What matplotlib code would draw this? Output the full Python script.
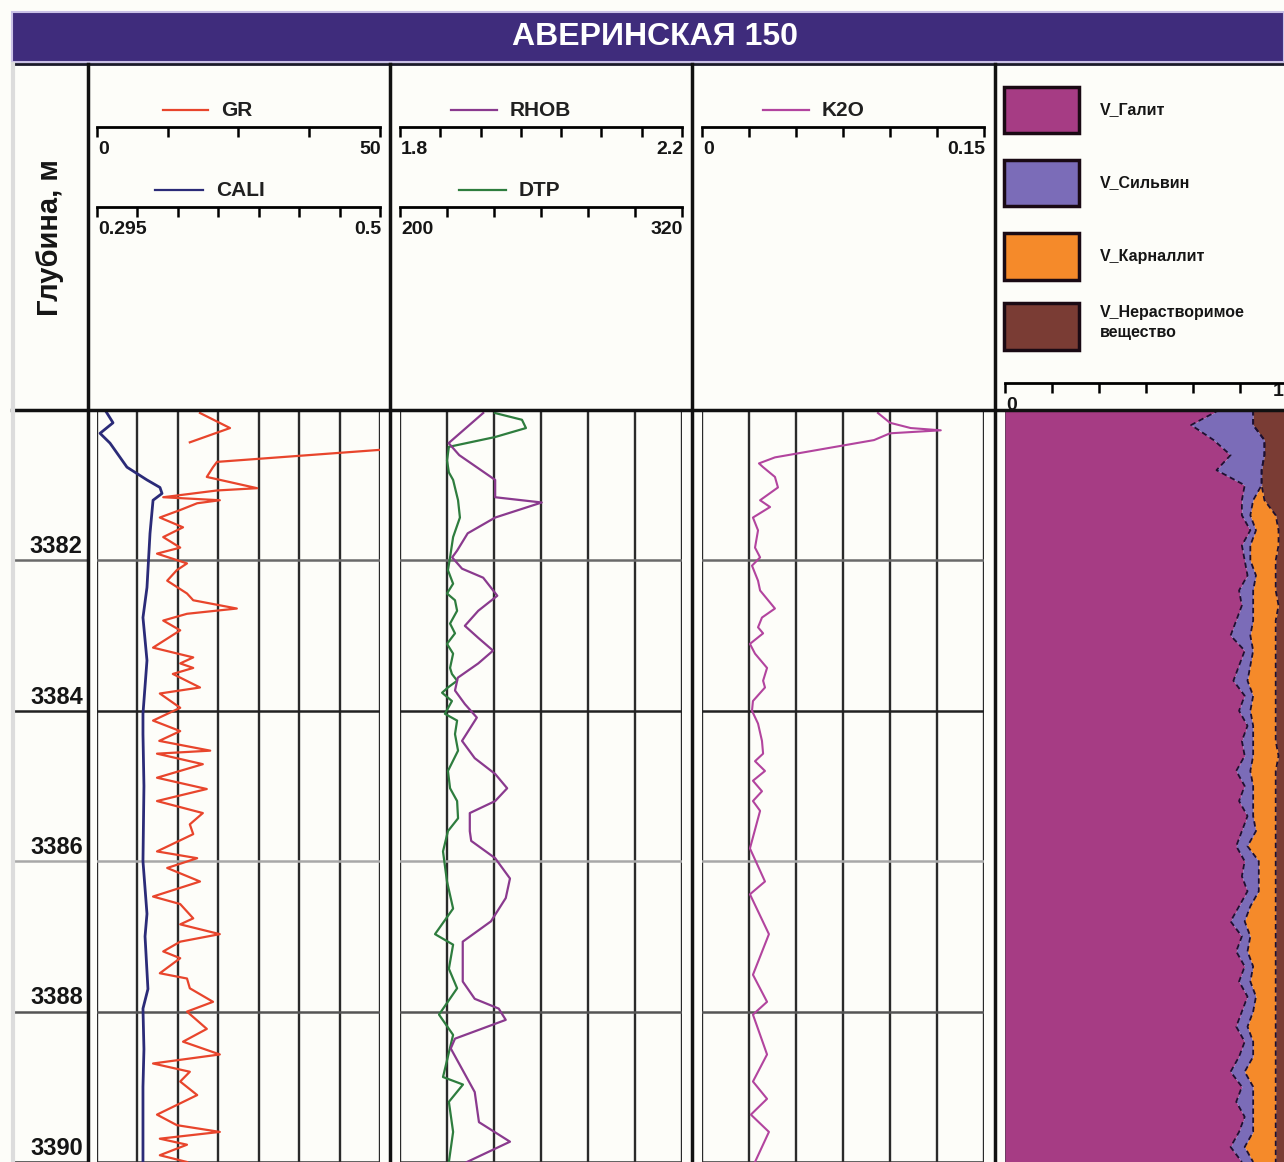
import numpy as np
import matplotlib
matplotlib.use("Agg")
import matplotlib.pyplot as plt
from matplotlib.patches import Rectangle

plt.rcParams['font.family'] = ['Liberation Sans', 'DejaVu Sans']
plt.rcParams['font.weight'] = 'bold'

W, H = 1284, 1162
TOP, BOT = 3380.0, 3390.0

title = "АВЕРИНСКАЯ 150"
depth_label = "Глубина, м"
depth_ticks = [3382, 3384, 3386, 3388, 3390]
hline_colors = ['#6a6a6a', '#222222', '#a8a8a8', '#555555', '#333333']

# GR (API) and CALI (m)
gr_depth = [3380.04, 3380.24, 3380.43, 3380.47, 3380.53, 3380.69, 3380.76, 3380.89, 3381.04, 3381.07,
            3381.16, 3381.20, 3381.24, 3381.33, 3381.43, 3381.56, 3381.69, 3381.83, 3381.91, 3382.04,
            3382.13, 3382.27, 3382.44, 3382.53, 3382.64, 3382.71, 3382.80, 3382.93, 3383.16, 3383.29,
            3383.37, 3383.43, 3383.51, 3383.69, 3383.77, 3383.96, 3384.13, 3384.27, 3384.40, 3384.53,
            3384.57, 3384.71, 3384.89, 3385.04, 3385.20, 3385.36, 3385.51, 3385.64, 3385.87, 3385.96,
            3386.09, 3386.27, 3386.47, 3386.57, 3386.76, 3386.84, 3386.97, 3387.07, 3387.20, 3387.29,
            3387.49, 3387.56, 3387.69, 3387.87, 3388.00, 3388.23, 3388.40, 3388.57, 3388.69, 3388.80,
            3388.93, 3389.11, 3389.37, 3389.51, 3389.60, 3389.69, 3389.77, 3389.91, 3390.00]
gr = [18.2, 23.5, 16.4, np.nan, 50.0, 21.2, 20.5, 19.4, 28.3, 21.2,
      11.7, 21.7, 17.7, 14.7, 11.1, 15.2, 11.7, 14.7, 10.6, 15.9,
      14.1, 12.4, 15.9, 17.0, 24.7, 15.9, 11.7, 14.7, 9.9, 17.0,
      14.7, 17.0, 13.4, 18.2, 11.1, 14.7, 9.9, 14.7, 11.0, 20.0,
      10.6, 18.7, 10.6, 19.4, 10.6, 18.7, 16.4, 17.0, 10.6, 17.7,
      12.4, 18.2, 9.9, 14.7, 17.0, 14.7, 21.7, 14.7, 11.7, 14.7,
      11.1, 15.9, 16.4, 20.5, 15.9, 19.4, 15.2, 21.7, 9.9, 16.4,
      14.7, 17.7, 10.6, 14.1, 21.7, 11.1, 15.9, 11.1, 15.9]

cali_depth = [3380.0, 3380.04, 3380.17, 3380.31, 3380.44, 3380.76, 3380.93, 3381.03, 3381.11, 3381.20,
              3381.64, 3382.36, 3382.76, 3383.33, 3384.04, 3384.31, 3385.0, 3386.0, 3386.7, 3387.0,
              3387.7, 3387.96, 3388.5, 3389.0, 3390.0]
cali = [0.3008, 0.3022, 0.3066, 0.2972, 0.3044, 0.3167, 0.3312, 0.3406, 0.3421, 0.3356,
        0.3334, 0.3312, 0.3283, 0.3312, 0.3283, 0.3283, 0.3290, 0.3283, 0.3312, 0.3298,
        0.3319, 0.3283, 0.3290, 0.3283, 0.3283]

# RHOB (g/cc) and DTP (us/m)
rhob_depth = [3380.04, 3380.44, 3380.60, 3380.93, 3381.16, 3381.23, 3381.43, 3381.64, 3381.87, 3381.96,
              3382.11, 3382.23, 3382.47, 3382.67, 3382.87, 3383.03, 3383.20, 3383.37, 3383.56, 3383.73,
              3383.91, 3384.09, 3384.40, 3384.63, 3384.84, 3385.03, 3385.20, 3385.36, 3385.60, 3385.73,
              3385.96, 3386.23, 3386.49, 3386.80, 3387.07, 3387.60, 3387.83, 3387.96, 3388.11, 3388.36,
              3388.49, 3389.07, 3389.47, 3389.73, 3390.00]
rhob = [1.918, 1.869, 1.884, 1.935, 1.935, 2.001, 1.935, 1.896, 1.881, 1.874,
        1.888, 1.918, 1.938, 1.911, 1.892, 1.911, 1.932, 1.911, 1.882, 1.878,
        1.892, 1.909, 1.888, 1.906, 1.935, 1.952, 1.935, 1.899, 1.899, 1.901,
        1.935, 1.956, 1.950, 1.929, 1.889, 1.889, 1.906, 1.940, 1.950, 1.878,
        1.872, 1.906, 1.912, 1.956, 1.895]

dtp_depth = [3380.04, 3380.13, 3380.24, 3380.36, 3380.49, 3380.67, 3380.83, 3380.93, 3381.20, 3381.43,
             3381.69, 3381.96, 3382.13, 3382.31, 3382.44, 3382.53, 3382.67, 3382.84, 3382.97, 3383.11,
             3383.24, 3383.43, 3383.51, 3383.60, 3383.69, 3383.76, 3383.87, 3384.04, 3384.13, 3384.31,
             3384.53, 3384.80, 3385.03, 3385.20, 3385.43, 3385.60, 3385.87, 3386.27, 3386.63, 3386.97,
             3387.11, 3387.43, 3387.69, 3388.04, 3388.31, 3388.87, 3388.97, 3389.20, 3389.60, 3390.00]
dtp = [240.4, 251.9, 253.6, 240.4, 220.8, 220.0, 220.8, 222.6, 224.7, 225.5,
       222.6, 221.3, 220.4, 222.6, 220.0, 223.4, 224.3, 221.3, 223.4, 220.0,
       222.6, 221.3, 222.1, 224.3, 220.4, 217.9, 222.1, 219.1, 224.3, 223.4,
       224.7, 220.4, 221.3, 224.3, 224.7, 220.4, 218.3, 220.0, 222.6, 214.9,
       222.6, 220.8, 224.3, 216.6, 222.6, 218.3, 226.8, 220.8, 222.6, 220.8]

# K2O (fraction)
k2o_depth = [3380.04, 3380.17, 3380.24, 3380.27, 3380.31, 3380.40, 3380.63, 3380.71, 3380.76, 3380.89,
             3381.03, 3381.20, 3381.29, 3381.43, 3381.60, 3381.83, 3381.96, 3382.07, 3382.27, 3382.40,
             3382.64, 3382.76, 3382.89, 3382.97, 3383.11, 3383.24, 3383.43, 3383.60, 3383.69, 3383.87,
             3384.00, 3384.17, 3384.40, 3384.57, 3384.67, 3384.80, 3384.93, 3385.07, 3385.20, 3385.33,
             3385.83, 3386.27, 3386.44, 3386.97, 3387.51, 3387.87, 3388.04, 3388.57, 3388.93, 3389.16,
             3389.37, 3389.60, 3390.00]
k2o = [0.0936, 0.1000, 0.1110, 0.1270, 0.1000, 0.0915, 0.0388, 0.0303, 0.0325, 0.0388,
       0.0404, 0.0309, 0.0362, 0.0271, 0.0298, 0.0282, 0.0309, 0.0266, 0.0298, 0.0309,
       0.0388, 0.0319, 0.0298, 0.0325, 0.0255, 0.0282, 0.0346, 0.0325, 0.0335, 0.0271,
       0.0266, 0.0298, 0.0319, 0.0325, 0.0282, 0.0335, 0.0271, 0.0319, 0.0271, 0.0309,
       0.0255, 0.0335, 0.0255, 0.0356, 0.0271, 0.0346, 0.0271, 0.0346, 0.0271, 0.0346,
       0.0260, 0.0356, 0.0282]

# mineral volumes
vol_depth = [3380.0, 3380.2, 3380.4, 3380.6, 3380.8, 3381.0, 3381.2, 3381.4, 3381.6, 3381.8,
             3382.0, 3382.2, 3382.4, 3382.6, 3382.8, 3383.0, 3383.2, 3383.4, 3383.6, 3383.8,
             3384.0, 3384.2, 3384.4, 3384.6, 3384.8, 3385.0, 3385.2, 3385.4, 3385.6, 3385.8,
             3386.0, 3386.2, 3386.4, 3386.6, 3386.8, 3387.0, 3387.2, 3387.4, 3387.6, 3387.8,
             3388.0, 3388.2, 3388.4, 3388.6, 3388.8, 3389.0, 3389.2, 3389.4, 3389.6, 3389.8, 3390.0]
v_halite = [0.76, 0.66, 0.74, 0.80, 0.75, 0.85, 0.84, 0.84, 0.87, 0.84,
            0.85, 0.86, 0.83, 0.84, 0.82, 0.80, 0.85, 0.83, 0.81, 0.85,
            0.83, 0.86, 0.84, 0.85, 0.82, 0.85, 0.83, 0.86, 0.84, 0.82,
            0.85, 0.84, 0.86, 0.83, 0.80, 0.84, 0.82, 0.85, 0.83, 0.86,
            0.84, 0.82, 0.85, 0.83, 0.80, 0.84, 0.82, 0.85, 0.83, 0.80, 0.84]
v_sylvite = [0.12, 0.22, 0.18, 0.12, 0.16, 0.06, 0.04, 0.03, 0.02, 0.03,
             0.02, 0.03, 0.05, 0.04, 0.06, 0.07, 0.03, 0.04, 0.05, 0.03,
             0.04, 0.02, 0.04, 0.03, 0.05, 0.03, 0.05, 0.02, 0.05, 0.04,
             0.05, 0.06, 0.04, 0.04, 0.05, 0.03, 0.04, 0.03, 0.04, 0.03,
             0.04, 0.04, 0.03, 0.05, 0.05, 0.04, 0.06, 0.03, 0.05, 0.05, 0.04]
v_carnallite = [0.00, 0.00, 0.00, 0.00, 0.00, 0.00, 0.04, 0.09, 0.08, 0.10,
                0.09, 0.07, 0.08, 0.09, 0.08, 0.09, 0.08, 0.09, 0.10, 0.08,
                0.09, 0.08, 0.08, 0.09, 0.09, 0.08, 0.08, 0.08, 0.07, 0.10,
                0.06, 0.06, 0.06, 0.09, 0.11, 0.09, 0.10, 0.08, 0.09, 0.07,
                0.08, 0.10, 0.08, 0.08, 0.11, 0.08, 0.08, 0.08, 0.08, 0.11, 0.08]
v_insoluble = [0.12, 0.12, 0.08, 0.08, 0.09, 0.09, 0.08, 0.04, 0.03, 0.03,
               0.04, 0.04, 0.04, 0.03, 0.04, 0.04, 0.04, 0.04, 0.04, 0.04,
               0.04, 0.04, 0.04, 0.03, 0.04, 0.04, 0.04, 0.04, 0.04, 0.04,
               0.04, 0.04, 0.04, 0.04, 0.04, 0.04, 0.04, 0.04, 0.04, 0.04,
               0.04, 0.04, 0.04, 0.04, 0.04, 0.04, 0.04, 0.04, 0.04, 0.04, 0.04]

mineral_names = ["V_Галит", "V_Сильвин", "V_Карналлит", "V_Нерастворимое\nвещество"]
mineral_colors = ['#a63c84', '#7b6cb8', '#f58a2a', '#7a3c34']

c_gr, c_cali, c_rhob, c_dtp, c_k2o = '#e8452c', '#2b2b78', '#8a3a8e', '#2e7d3e', '#b2449e'


def rect(x0, y0, x1, y1):
    return [x0 / W, 1 - y1 / H, (x1 - x0) / W, (y1 - y0) / H]


fig = plt.figure(figsize=(W / 100, H / 100), dpi=100)
fig.patch.set_facecolor('#fdfdf9')


def track(x0, x1, lo, hi, n):
    ax = fig.add_axes(rect(x0, 410, x1, 1162))
    ax.set_xlim(lo, hi)
    ax.set_ylim(BOT, TOP)
    ax.set_xticks(np.linspace(lo, hi, n + 1))
    ax.set_yticks([])
    ax.tick_params(length=0, labelbottom=False)
    ax.grid(axis='x', color='#2a2a2a', lw=1.7)
    ax.patch.set_alpha(0)
    for s in ax.spines.values():
        s.set_visible(False)
    for d, c in zip(depth_ticks, hline_colors):
        ax.axhline(d, color=c, lw=1.8)
    return ax


# depth column
axd = fig.add_axes(rect(12, 410, 88, 1162))
axd.set_ylim(BOT, TOP)
axd.set_xlim(0, 1)
axd.axis('off')
for d, c in zip(depth_ticks, hline_colors):
    axd.axhline(d, color=c, lw=1.8)
    axd.text(0.93, d - 0.03, str(d), ha='right', va='bottom', fontsize=17, color='#151515')

# track 1: GR + CALI
ax1 = track(97, 380, 0, 50, 7)
ax1.plot(gr, gr_depth, color=c_gr, lw=1.6)
ax1b = ax1.twiny()
ax1b.set_xlim(0.295, 0.5)
ax1b.axis('off')
ax1b.plot(cali, cali_depth, color=c_cali, lw=2.0)

# track 2: RHOB + DTP
ax2 = track(400, 682, 200, 320, 6)
ax2.plot(dtp, dtp_depth, color=c_dtp, lw=1.6)
ax2b = ax2.twiny()
ax2b.set_xlim(1.8, 2.2)
ax2b.axis('off')
ax2b.plot(rhob, rhob_depth, color=c_rhob, lw=1.6)

# track 3: K2O
ax3 = track(702, 984, 0, 0.15, 6)
ax3.plot(k2o, k2o_depth, color=c_k2o, lw=1.5)

# track 4: mineral volumes (stacked)
ax4 = fig.add_axes(rect(1005, 410, 1287, 1162))
ax4.set_xlim(0, 1)
ax4.set_ylim(BOT, TOP)
ax4.set_xticks([])
ax4.set_yticks([])
for s in ax4.spines.values():
    s.set_visible(False)
stack = np.vstack([v_halite, v_sylvite, v_carnallite, v_insoluble])
cum = np.cumsum(stack, axis=0)
left = np.zeros(len(vol_depth))
for i in range(4):
    ax4.fill_betweenx(vol_depth, left, cum[i], color=mineral_colors[i], lw=0)
    if i < 3:
        ax4.plot(cum[i], vol_depth, color='#1d1030', lw=1.3, ls=(0, (3, 2)))
    left = cum[i]
ax4.axvline(0, color='#5a2a50', lw=1.2)

# overlay for frame and header
ov = fig.add_axes([0, 0, 1, 1], zorder=10)
ov.set_xlim(0, W)
ov.set_ylim(H, 0)
ov.axis('off')
ov.patch.set_alpha(0)

ov.add_patch(Rectangle((12, 12), W - 12, 50, facecolor='#3f2c7c', edgecolor='#c9c0e6', lw=1.5))
ov.text(655, 37, title, color='white', fontsize=23, ha='center', va='center')
ov.plot([12, W], [64, 64], color='#1a1a2a', lw=2)
ov.plot([12, W], [410, 410], color='#111111', lw=2.5)
ov.plot([13, 13], [64, H], color='#dcdcdc', lw=3)
for xb in [88, 390, 692, 995]:
    ov.plot([xb, xb], [64, H], color='#111111', lw=2.5)

ov.text(50, 238, depth_label, rotation=90, ha='center', va='center', fontsize=21, color='#151515')


def scale(x0, x1, y, lo, hi, n, labels):
    ax = fig.add_axes(rect(x0, y, x1, y + 12), zorder=11)
    ax.set_xlim(lo, hi)
    ax.set_ylim(0, 1)
    ax.patch.set_alpha(0)
    for s in ['left', 'right', 'bottom']:
        ax.spines[s].set_visible(False)
    ax.spines['top'].set_linewidth(2)
    ax.xaxis.set_ticks_position('top')
    ax.set_xticks(np.linspace(lo, hi, n + 1))
    ax.set_yticks([])
    ax.tick_params(axis='x', direction='in', length=7, width=1.8, labeltop=False, labelbottom=False)
    ov.text(x0 + 1, y + 23, labels[0], ha='left', va='center', fontsize=14, color='#151515')
    ov.text(x1 + 1, y + 23, labels[1], ha='right', va='center', fontsize=14, color='#151515')


def legend_line(x0, x1, y, color, name):
    ov.plot([x0, x1], [y, y], color=color, lw=1.6)
    ov.text(x1 + 13, y, name, ha='left', va='center', fontsize=15, color='#202020')


legend_line(163, 208, 110, c_gr, "GR")
scale(97, 380, 127, 0, 50, 4, ["0", "50"])
legend_line(155, 203, 190, c_cali, "CALI")
scale(97, 380, 207, 0.295, 0.5, 7, ["0.295", "0.5"])

legend_line(451, 497, 110, c_rhob, "RHOB")
scale(400, 682, 127, 1.8, 2.2, 7, ["1.8", "2.2"])
legend_line(459, 506, 190, c_dtp, "DTP")
scale(400, 682, 207, 200, 320, 6, ["200", "320"])

legend_line(763, 809, 110, c_k2o, "K2O")
scale(702, 984, 127, 0, 0.15, 6, ["0", "0.15"])

box_y = [(87, 133), (160, 206), (233, 280), (303, 350)]
for (y0, y1), name, col in zip(box_y, mineral_names, mineral_colors):
    ov.add_patch(Rectangle((1004, y0), 75, y1 - y0, facecolor=col, edgecolor='#1a0a14', lw=2.5))
    ov.text(1100, (y0 + y1) / 2 - (4 if '\n' in name else 0), name, ha='left', va='center',
            fontsize=11.5, color='#151515', linespacing=1.4)
scale(1005, 1287, 383, 0, 1, 6, ["0", ""])
ov.text(W, 392, "1", ha='right', va='center', fontsize=14, color='#151515')

fig.savefig("out.png", dpi=100, facecolor=fig.get_facecolor())
